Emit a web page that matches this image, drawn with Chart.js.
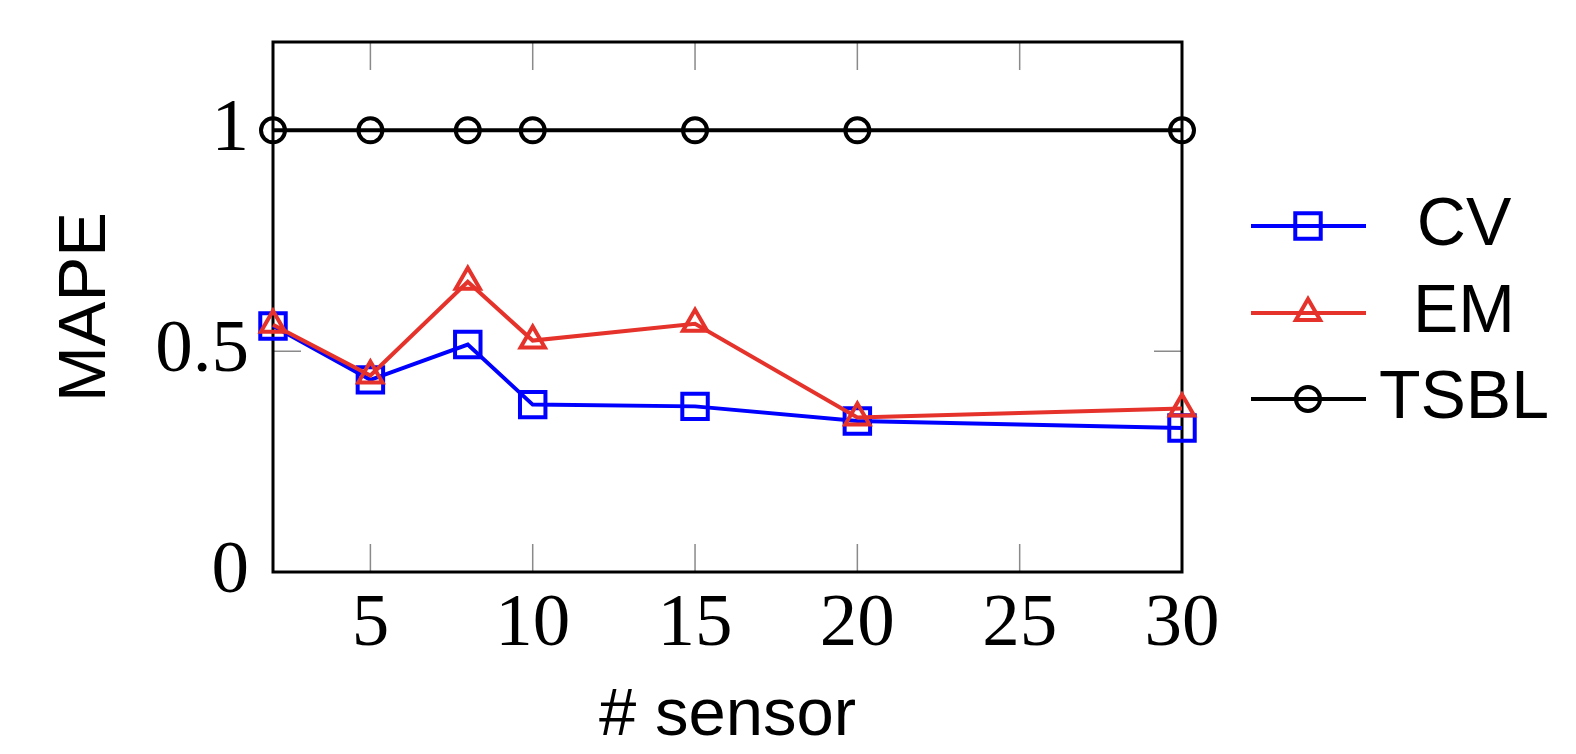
<!DOCTYPE html>
<html>
<head>
<meta charset="utf-8">
<script src="https://cdn.jsdelivr.net/npm/chart.js@4"></script>
<style>
  body { margin: 0; background: #fff; }
  #wrap { width: 1576px; height: 754px; }
</style>
</head>
<body>
<div id="wrap"><canvas id="myChart" width="1576" height="754"></canvas></div>
<script>
// values
const sensors = [2, 5, 8, 10, 15, 20, 30];
const cvMape = [0.557, 0.435, 0.515, 0.379, 0.375, 0.342, 0.326];
const emMape = [0.560, 0.445, 0.657, 0.524, 0.562, 0.350, 0.370];
const tsblMape = [1, 1, 1, 1, 1, 1, 1];
const xTicks = [5, 10, 15, 20, 25, 30];
const yTicks = [0, 0.5, 1];

const BLUE = '#0000ff';
const RED = 'rgb(229, 50, 42)';
const BLACK = '#000000';

function points(ys) {
  return sensors.map(function (x, i) { return { x: x, y: ys[i] }; });
}

function series(label, ys, color, style, radius, order) {
  return {
    label: label,
    data: points(ys),
    borderColor: color,
    borderWidth: 4,
    pointStyle: style,
    pointRadius: radius,
    pointHoverRadius: radius,
    pointBorderColor: color,
    pointBackgroundColor: 'rgba(0,0,0,0)',
    pointBorderWidth: 4,
    tension: 0,
    clip: false,
    order: order
  };
}

const data = {
  datasets: [
    series('CV', cvMape, BLUE, 'rect', 18, 2),
    series('EM', emMape, RED, 'triangle', 14, 1),
    series('TSBL', tsblMape, BLACK, 'circle', 12, 0)
  ]
};

// box around the plot plus short inward ticks
const frame = {
  id: 'frame',
  beforeDatasetsDraw(chart) {
    const ctx = chart.ctx;
    const a = chart.chartArea;
    const xs = chart.scales.x, ys = chart.scales.y;
    const len = 28;
    ctx.save();
    ctx.strokeStyle = '#8a8a8a';
    ctx.lineWidth = 1.5;
    ctx.beginPath();
    xTicks.forEach(function (v) {
      const px = xs.getPixelForValue(v);
      ctx.moveTo(px, a.bottom); ctx.lineTo(px, a.bottom - len);
      ctx.moveTo(px, a.top); ctx.lineTo(px, a.top + len);
    });
    yTicks.forEach(function (v) {
      const py = ys.getPixelForValue(v);
      ctx.moveTo(a.left, py); ctx.lineTo(a.left + len, py);
      ctx.moveTo(a.right, py); ctx.lineTo(a.right - len, py);
    });
    ctx.stroke();
    ctx.strokeStyle = '#000';
    ctx.lineWidth = 3;
    ctx.strokeRect(a.left, a.top, a.right - a.left, a.bottom - a.top);
    ctx.restore();
  }
};

// legend on the right, text centred like the original
const sideLegend = {
  id: 'sideLegend',
  afterDraw(chart) {
    const ctx = chart.ctx;
    const rows = [226, 313, 399];
    const bases = [245, 332, 418];
    ctx.save();
    chart.data.datasets.forEach(function (ds, i) {
      const y = rows[i];
      ctx.strokeStyle = ds.borderColor;
      ctx.lineWidth = 4;
      ctx.beginPath();
      ctx.moveTo(1251, y); ctx.lineTo(1366, y);
      ctx.stroke();
      ctx.fillStyle = 'rgba(0,0,0,0)';
      Chart.helpers.drawPoint(ctx, {
        pointStyle: ds.pointStyle, radius: ds.pointRadius,
        borderWidth: 4, rotation: 0
      }, 1308, y);
      ctx.fillStyle = '#000';
      ctx.font = '68px "Liberation Sans", Arial, sans-serif';
      ctx.textAlign = 'center';
      ctx.textBaseline = 'alphabetic';
      ctx.fillText(ds.label, 1464, bases[i]);
    });
    ctx.restore();
  }
};

const config = {
  type: 'line',
  data: data,
  options: {
    responsive: false,
    animation: false,
    devicePixelRatio: 1,
    layout: { padding: { top: 42, right: 394, left: 0, bottom: 0 } },
    plugins: { legend: { display: false }, tooltip: { enabled: false } },
    scales: {
      x: {
        type: 'linear',
        min: 2,
        max: 30,
        afterBuildTicks: function (s) { s.ticks = xTicks.map(function (v) { return { value: v }; }); },
        afterFit: function (s) {
          s.height = 754 - 572;
          s.paddingLeft = 0; s.paddingRight = 0;
        },
        grid: { display: false, drawTicks: false },
        border: { display: false },
        ticks: {
          color: '#000',
          padding: 8,
          maxRotation: 0,
          font: { family: '"Liberation Serif", "Times New Roman", serif', size: 75 }
        },
        title: {
          display: true,
          text: '# sensor',
          color: '#000',
          padding: { top: 0, bottom: 0 },
          font: { family: '"Liberation Sans", Arial, sans-serif', size: 67, lineHeight: 1.12 }
        }
      },
      y: {
        min: 0,
        max: 1.2,
        afterBuildTicks: function (s) { s.ticks = yTicks.map(function (v) { return { value: v }; }); },
        afterFit: function (s) {
          s.width = 273;
          s.paddingTop = 0; s.paddingBottom = 0;
        },
        grid: { display: false, drawTicks: false },
        border: { display: false },
        ticks: {
          color: '#000',
          padding: 24,
          callback: function (v) { return String(v); },
          font: { family: '"Liberation Serif", "Times New Roman", serif', size: 75 }
        },
        title: {
          display: true,
          text: 'MAPE',
          color: '#000',
          padding: { top: 46, bottom: 0 },
          font: { family: '"Liberation Sans", Arial, sans-serif', size: 67, lineHeight: 1.2 }
        }
      }
    }
  },
  plugins: [frame, sideLegend]
};

const myChart = new Chart(document.getElementById('myChart'), config);
</script>
</body>
</html>
